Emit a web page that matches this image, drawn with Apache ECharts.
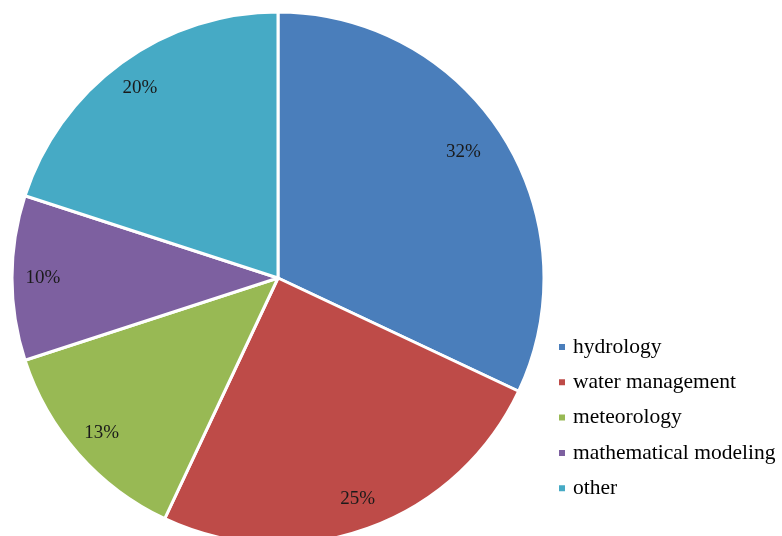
<!DOCTYPE html>
<html>
<head>
<meta charset="utf-8">
<script src="https://cdn.jsdelivr.net/npm/echarts@6/dist/echarts.min.js"></script>
<style>
  html, body { margin: 0; padding: 0; background: #fff; }
  #main { width: 782px; height: 536px; }
</style>
</head>
<body>
<div id="main"></div>
<script>
var categories = ["hydrology", "water management", "meteorology", "mathematical modeling", "other"];
var values = [32, 25, 13, 10, 20];
var colors = ["#4A7EBB", "#BE4B48", "#98B954", "#7D60A0", "#46AAC5"];

var chart = echarts.init(document.getElementById("main"));

var pieData = categories.map(function (c, i) {
  return { name: c, value: values[i] };
});

// label ring copy; the biggest slice's label sits a bit closer in
var labelData = pieData.map(function (d, i) {
  var o = { name: d.name, value: d.value };
  if (i === 0) o.label = { padding: [0, 26, 0, 0], verticalAlign: "top" };
  return o;
});

var option = {
  animation: false,
  color: colors,
  legend: {
    orient: "vertical",
    left: 557,
    top: 336,
    padding: 0,
    itemWidth: 8,
    itemHeight: 8,
    itemGap: 13.3,
    icon: "rect",
    textStyle: {
      fontFamily: "Liberation Serif",
      fontSize: 21.5,
      color: "#000",
      lineHeight: 22,
      padding: [0, 0, 0, 2]
    },
    data: categories
  },
  series: [
    {
      type: "pie",
      center: [278, 278],
      radius: [0, 266],
      startAngle: 90,
      clockwise: true,
      itemStyle: { borderColor: "#fff", borderWidth: 3 },
      label: { show: false },
      labelLine: { show: false },
      data: pieData
    },
    {
      // label ring, only places the percentages further out
      type: "pie",
      center: [278, 278],
      radius: [198, 266],
      startAngle: 90,
      clockwise: true,
      silent: true,
      itemStyle: { color: "rgba(0,0,0,0)", borderWidth: 0 },
      label: {
        position: "inside",
        formatter: "{c}%",
        fontFamily: "Liberation Serif",
        fontSize: 19,
        color: "#1a1a1a"
      },
      labelLine: { show: false },
      data: labelData
    }
  ]
};

chart.setOption(option);
</script>
</body>
</html>
